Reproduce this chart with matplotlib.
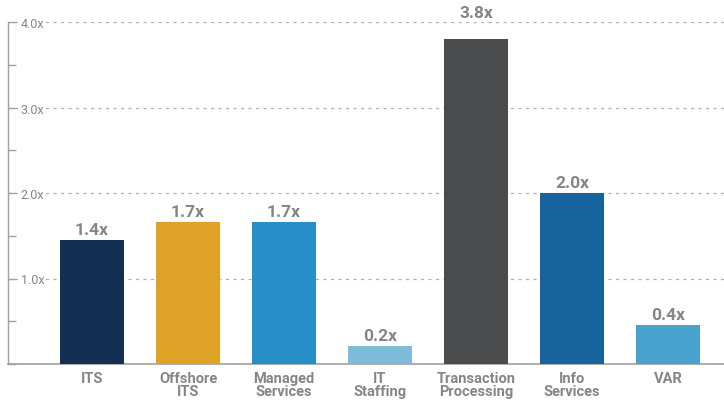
import numpy as np
import matplotlib.pyplot as plt
from matplotlib.ticker import MultipleLocator

categories = ["ITS", "Offshore\nITS", "Managed\nServices", "IT\nStaffing",
              "Transaction\nProcessing", "Info\nServices", "VAR"]
values = [1.45, 1.66, 1.66, 0.21, 3.80, 2.00, 0.46]
value_labels = ["1.4x", "1.7x", "1.7x", "0.2x", "3.8x", "2.0x", "0.4x"]
colors = ["#132f54", "#dfa126", "#268fc7", "#7fbadb", "#4a4b4d", "#17639d", "#4aa2cf"]
yticks = [1.0, 2.0, 3.0, 4.0]
ytick_labels = ["1.0x", "2.0x", "3.0x", "4.0x"]

plt.rcParams['font.family'] = ['Roboto', 'DejaVu Sans']
text_gray = "#858585"

fig = plt.figure(figsize=(7.24, 4.02), dpi=100)
ax = fig.add_axes([8/724, 37/402, 716/724, 342/402])

x = np.arange(len(categories))
bars = ax.bar(x, values, width=0.667, color=colors, zorder=3)

ymax = 4.0
for xi, v, lab in zip(x, values, value_labels):
    # labels that would run into the top gridline are lifted above it
    off = 14 if v > ymax - 0.35 else 2
    ax.annotate(lab, (xi, v), xytext=(0, off), textcoords="offset points",
                ha="center", va="bottom", fontsize=12.5, fontweight="bold",
                color=text_gray, annotation_clip=False)

ax.set_xlim(-0.875, 6.583)
ax.set_ylim(0, ymax)

ax.set_yticks(yticks)
ax.set_yticklabels(ytick_labels)
ax.yaxis.set_minor_locator(MultipleLocator(0.5))
ax.tick_params(axis="y", which="both", direction="in", length=6, width=1,
               color="#a0a0a0", pad=-9, labelsize=9, labelcolor=text_gray)
for t in ax.get_yticklabels():
    t.set_horizontalalignment("left")
    t.set_bbox(dict(facecolor="white", edgecolor="none", pad=1.5))
    t.set_zorder(4)

ax.set_xticks(x)
ax.set_xticklabels(categories, linespacing=0.95)
ax.tick_params(axis="x", length=0, pad=5, labelsize=10.5, labelcolor=text_gray)
for t in ax.get_xticklabels():
    t.set_fontweight("bold")

ax.yaxis.grid(True, which="major", linestyle=(0, (2.5, 3.5)), color="#b0b0b0",
              linewidth=0.9, zorder=0)
ax.set_axisbelow(True)

for s in ["top", "right"]:
    ax.spines[s].set_visible(False)
ax.spines["left"].set_color("#a0a0a0")
ax.spines["bottom"].set_color("#a0a0a0")
ax.spines["left"].set_linewidth(1)
ax.spines["bottom"].set_linewidth(1.2)

fig.savefig("out.png", dpi=100)
